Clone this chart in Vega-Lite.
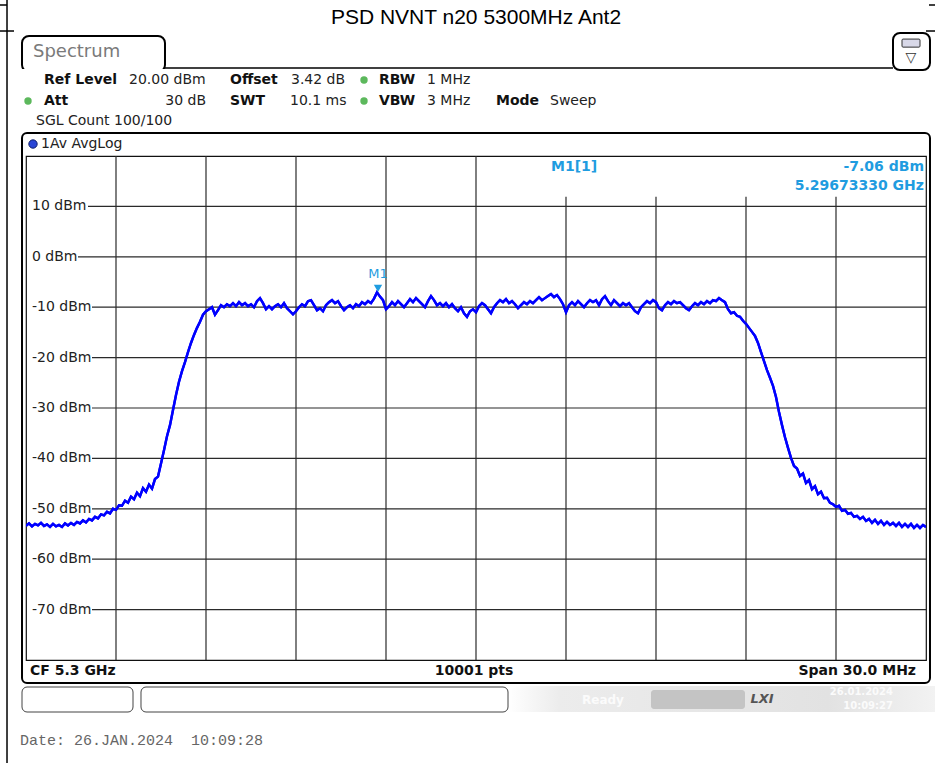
{
"$schema": "https://vega.github.io/schema/vega-lite/v6.json",
"width": 900, "height": 504,
"autosize": {"type": "none"},
"padding": {"left": 26, "top": 156, "right": 9, "bottom": 103},
"background": "white",
"config": {"view": {"stroke": "#111", "strokeWidth": 1.2}},
"datasets": {
"trace": [
{"f":5285.0,"p":-53.4},{"f":5285.1,"p":-52.9},{"f":5285.2,"p":-53.5},{"f":5285.3,"p":-53.0},{"f":5285.4,"p":-53.3},{"f":5285.5,"p":-52.8},{"f":5285.6,"p":-53.4},{"f":5285.7,"p":-53.1},{"f":5285.8,"p":-53.6},{"f":5285.9,"p":-53.0},
{"f":5286.0,"p":-53.5},{"f":5286.1,"p":-53.2},{"f":5286.2,"p":-53.6},{"f":5286.3,"p":-52.9},{"f":5286.4,"p":-53.3},{"f":5286.5,"p":-52.8},{"f":5286.6,"p":-53.2},{"f":5286.7,"p":-52.6},{"f":5286.8,"p":-52.9},{"f":5286.9,"p":-52.3},
{"f":5287.0,"p":-52.7},{"f":5287.1,"p":-52.0},{"f":5287.2,"p":-52.3},{"f":5287.3,"p":-51.6},{"f":5287.4,"p":-51.9},{"f":5287.5,"p":-51.1},{"f":5287.6,"p":-51.3},{"f":5287.7,"p":-50.6},{"f":5287.8,"p":-50.9},{"f":5287.9,"p":-50.0},
{"f":5288.0,"p":-50.2},{"f":5288.1,"p":-49.3},{"f":5288.2,"p":-49.4},{"f":5288.3,"p":-48.4},{"f":5288.4,"p":-48.8},{"f":5288.5,"p":-47.6},{"f":5288.6,"p":-48.1},{"f":5288.7,"p":-46.8},{"f":5288.8,"p":-47.5},{"f":5288.9,"p":-45.9},
{"f":5289.0,"p":-46.6},{"f":5289.1,"p":-45.2},{"f":5289.2,"p":-46.0},{"f":5289.3,"p":-44.1},{"f":5289.4,"p":-43.6},{"f":5289.5,"p":-41.0},{"f":5289.6,"p":-38.4},{"f":5289.7,"p":-35.6},{"f":5289.8,"p":-33.4},{"f":5289.9,"p":-30.4},
{"f":5290.0,"p":-27.4},{"f":5290.1,"p":-24.8},{"f":5290.2,"p":-22.7},{"f":5290.3,"p":-20.9},{"f":5290.4,"p":-18.9},{"f":5290.5,"p":-17.1},{"f":5290.6,"p":-15.5},{"f":5290.7,"p":-14.1},{"f":5290.8,"p":-12.9},{"f":5290.9,"p":-11.5},
{"f":5291.0,"p":-10.8},{"f":5291.1,"p":-10.4},{"f":5291.2,"p":-10.0},{"f":5291.3,"p":-11.5},{"f":5291.4,"p":-10.6},{"f":5291.5,"p":-9.6},{"f":5291.6,"p":-10.0},{"f":5291.7,"p":-9.4},{"f":5291.8,"p":-9.8},{"f":5291.9,"p":-9.2},
{"f":5292.0,"p":-9.8},{"f":5292.1,"p":-9.0},{"f":5292.2,"p":-9.6},{"f":5292.3,"p":-9.2},{"f":5292.4,"p":-9.8},{"f":5292.5,"p":-9.4},{"f":5292.6,"p":-10.0},{"f":5292.7,"p":-8.8},{"f":5292.8,"p":-8.2},{"f":5292.9,"p":-9.2},
{"f":5293.0,"p":-10.4},{"f":5293.1,"p":-9.8},{"f":5293.2,"p":-10.4},{"f":5293.3,"p":-9.8},{"f":5293.4,"p":-9.4},{"f":5293.5,"p":-10.0},{"f":5293.6,"p":-9.2},{"f":5293.7,"p":-10.2},{"f":5293.8,"p":-10.8},{"f":5293.9,"p":-11.4},
{"f":5294.0,"p":-10.8},{"f":5294.1,"p":-10.0},{"f":5294.2,"p":-9.4},{"f":5294.3,"p":-9.8},{"f":5294.4,"p":-8.8},{"f":5294.5,"p":-8.6},{"f":5294.6,"p":-9.6},{"f":5294.7,"p":-10.6},{"f":5294.8,"p":-10.2},{"f":5294.9,"p":-10.8},
{"f":5295.0,"p":-9.6},{"f":5295.1,"p":-9.0},{"f":5295.2,"p":-8.6},{"f":5295.3,"p":-9.2},{"f":5295.4,"p":-8.8},{"f":5295.5,"p":-9.8},{"f":5295.6,"p":-10.6},{"f":5295.7,"p":-10.0},{"f":5295.8,"p":-9.6},{"f":5295.9,"p":-10.2},
{"f":5296.0,"p":-9.4},{"f":5296.1,"p":-9.8},{"f":5296.2,"p":-9.0},{"f":5296.3,"p":-9.4},{"f":5296.4,"p":-8.8},{"f":5296.5,"p":-9.2},{"f":5296.6,"p":-8.3},{"f":5296.7,"p":-7.06},{"f":5296.8,"p":-7.9},{"f":5296.9,"p":-8.6},
{"f":5297.0,"p":-10.4},{"f":5297.1,"p":-9.8},{"f":5297.2,"p":-9.0},{"f":5297.3,"p":-9.6},{"f":5297.4,"p":-8.8},{"f":5297.5,"p":-9.4},{"f":5297.6,"p":-10.0},{"f":5297.7,"p":-9.2},{"f":5297.8,"p":-8.4},{"f":5297.9,"p":-9.0},
{"f":5298.0,"p":-8.2},{"f":5298.1,"p":-8.8},{"f":5298.2,"p":-9.4},{"f":5298.3,"p":-10.0},{"f":5298.4,"p":-8.8},{"f":5298.5,"p":-7.8},{"f":5298.6,"p":-8.6},{"f":5298.7,"p":-9.6},{"f":5298.8,"p":-9.2},{"f":5298.9,"p":-9.8},
{"f":5299.0,"p":-9.2},{"f":5299.1,"p":-10.0},{"f":5299.2,"p":-9.4},{"f":5299.3,"p":-10.2},{"f":5299.4,"p":-10.8},{"f":5299.5,"p":-10.0},{"f":5299.6,"p":-11.2},{"f":5299.7,"p":-11.9},{"f":5299.8,"p":-10.8},{"f":5299.9,"p":-10.4},
{"f":5300.0,"p":-11.0},{"f":5300.1,"p":-9.8},{"f":5300.2,"p":-9.2},{"f":5300.3,"p":-9.6},{"f":5300.4,"p":-10.4},{"f":5300.5,"p":-11.2},{"f":5300.6,"p":-10.0},{"f":5300.7,"p":-9.2},{"f":5300.8,"p":-8.6},{"f":5300.9,"p":-9.0},
{"f":5301.0,"p":-8.4},{"f":5301.1,"p":-9.2},{"f":5301.2,"p":-8.8},{"f":5301.3,"p":-9.4},{"f":5301.4,"p":-10.2},{"f":5301.5,"p":-9.6},{"f":5301.6,"p":-9.0},{"f":5301.7,"p":-9.4},{"f":5301.8,"p":-8.8},{"f":5301.9,"p":-9.2},
{"f":5302.0,"p":-8.6},{"f":5302.1,"p":-8.0},{"f":5302.2,"p":-8.6},{"f":5302.3,"p":-8.2},{"f":5302.4,"p":-7.8},{"f":5302.5,"p":-7.4},{"f":5302.6,"p":-8.0},{"f":5302.7,"p":-7.6},{"f":5302.8,"p":-8.4},{"f":5302.9,"p":-9.4},
{"f":5303.0,"p":-11.0},{"f":5303.1,"p":-9.6},{"f":5303.2,"p":-9.0},{"f":5303.3,"p":-9.6},{"f":5303.4,"p":-8.8},{"f":5303.5,"p":-9.4},{"f":5303.6,"p":-10.0},{"f":5303.7,"p":-9.2},{"f":5303.8,"p":-8.6},{"f":5303.9,"p":-9.0},
{"f":5304.0,"p":-8.6},{"f":5304.1,"p":-9.6},{"f":5304.2,"p":-8.4},{"f":5304.3,"p":-7.8},{"f":5304.4,"p":-8.8},{"f":5304.5,"p":-9.6},{"f":5304.6,"p":-8.6},{"f":5304.7,"p":-9.2},{"f":5304.8,"p":-9.8},{"f":5304.9,"p":-9.2},
{"f":5305.0,"p":-9.6},{"f":5305.1,"p":-9.2},{"f":5305.2,"p":-10.0},{"f":5305.3,"p":-10.8},{"f":5305.4,"p":-11.2},{"f":5305.5,"p":-10.0},{"f":5305.6,"p":-9.4},{"f":5305.7,"p":-8.8},{"f":5305.8,"p":-9.2},{"f":5305.9,"p":-8.6},
{"f":5306.0,"p":-9.0},{"f":5306.1,"p":-10.2},{"f":5306.2,"p":-10.6},{"f":5306.3,"p":-9.6},{"f":5306.4,"p":-9.0},{"f":5306.5,"p":-9.4},{"f":5306.6,"p":-8.8},{"f":5306.7,"p":-9.2},{"f":5306.8,"p":-9.0},{"f":5306.9,"p":-9.6},
{"f":5307.0,"p":-10.2},{"f":5307.1,"p":-10.6},{"f":5307.2,"p":-9.8},{"f":5307.3,"p":-9.2},{"f":5307.4,"p":-9.6},{"f":5307.5,"p":-9.0},{"f":5307.6,"p":-9.4},{"f":5307.7,"p":-8.8},{"f":5307.8,"p":-9.2},{"f":5307.9,"p":-8.6},
{"f":5308.0,"p":-8.8},{"f":5308.1,"p":-8.2},{"f":5308.2,"p":-8.6},{"f":5308.3,"p":-9.0},{"f":5308.4,"p":-10.4},{"f":5308.5,"p":-11.2},{"f":5308.6,"p":-11.0},{"f":5308.7,"p":-11.7},{"f":5308.8,"p":-11.9},{"f":5308.9,"p":-12.7},
{"f":5309.0,"p":-13.3},{"f":5309.1,"p":-14.1},{"f":5309.2,"p":-14.9},{"f":5309.3,"p":-15.7},{"f":5309.4,"p":-17.1},{"f":5309.5,"p":-18.9},{"f":5309.6,"p":-20.7},{"f":5309.7,"p":-22.5},{"f":5309.8,"p":-24.0},{"f":5309.9,"p":-25.6},
{"f":5310.0,"p":-27.8},{"f":5310.1,"p":-30.8},{"f":5310.2,"p":-33.4},{"f":5310.3,"p":-35.8},{"f":5310.4,"p":-37.9},{"f":5310.5,"p":-39.9},{"f":5310.6,"p":-41.5},{"f":5310.7,"p":-42.0},{"f":5310.8,"p":-43.5},{"f":5310.9,"p":-43.0},
{"f":5311.0,"p":-44.9},{"f":5311.1,"p":-44.3},{"f":5311.2,"p":-46.1},{"f":5311.3,"p":-45.5},{"f":5311.4,"p":-47.1},{"f":5311.5,"p":-46.6},{"f":5311.6,"p":-47.9},{"f":5311.7,"p":-47.8},{"f":5311.8,"p":-48.8},{"f":5311.9,"p":-49.1},
{"f":5312.0,"p":-49.6},{"f":5312.1,"p":-49.4},{"f":5312.2,"p":-50.4},{"f":5312.3,"p":-50.2},{"f":5312.4,"p":-51.0},{"f":5312.5,"p":-50.8},{"f":5312.6,"p":-51.6},{"f":5312.7,"p":-51.4},{"f":5312.8,"p":-52.0},{"f":5312.9,"p":-51.6},
{"f":5313.0,"p":-52.4},{"f":5313.1,"p":-52.0},{"f":5313.2,"p":-52.8},{"f":5313.3,"p":-52.2},{"f":5313.4,"p":-53.0},{"f":5313.5,"p":-52.4},{"f":5313.6,"p":-53.2},{"f":5313.7,"p":-52.6},{"f":5313.8,"p":-53.2},{"f":5313.9,"p":-52.8},
{"f":5314.0,"p":-53.4},{"f":5314.1,"p":-52.8},{"f":5314.2,"p":-53.6},{"f":5314.3,"p":-53.0},{"f":5314.4,"p":-53.6},{"f":5314.5,"p":-53.0},{"f":5314.6,"p":-53.8},{"f":5314.7,"p":-53.2},{"f":5314.8,"p":-53.8},{"f":5314.9,"p":-53.2},
{"f":5315.0,"p":-53.6}
],
"vgrid": [
{"f":5288,"top":20},{"f":5291,"top":20},{"f":5294,"top":20},{"f":5297,"top":20},{"f":5300,"top":20},
{"f":5303,"top":11.9},{"f":5306,"top":11.9},{"f":5309,"top":11.9},{"f":5312,"top":11.9}
],
"hgrid": [
{"p":10,"start":5287.067,"end":5315,"label":"10 dBm"},{"p":0,"start":5286.733,"end":5315,"label":"0 dBm"},
{"p":-10,"start":5287.2,"end":5315,"label":"-10 dBm"},{"p":-20,"start":5287.2,"end":5315,"label":"-20 dBm"},
{"p":-30,"start":5287.2,"end":5315,"label":"-30 dBm"},{"p":-40,"start":5287.2,"end":5315,"label":"-40 dBm"},
{"p":-50,"start":5287.2,"end":5315,"label":"-50 dBm"},{"p":-60,"start":5287.2,"end":5315,"label":"-60 dBm"},
{"p":-70,"start":5287.2,"end":5315,"label":"-70 dBm"}
],
"boxes": [
{"k":"tab","f1":5284.867,"f2":5289.633,"p1":43.81,"p2":36.67},
{"k":"cover","f1":5284.8,"f2":5289.7,"p1":37.26,"p2":36.2},
{"k":"icon","f1":5313.9,"f2":5315.133,"p1":44.4,"p2":37.06},
{"k":"kbd","f1":5314.2,"f2":5314.8,"p1":43.2,"p2":41.6},
{"k":"panel","f1":5284.867,"f2":5315.133,"p1":24.56,"p2":-84.56},
{"k":"sb","f1":5284.867,"f2":5288.567,"p1":-85.36,"p2":-90.32},
{"k":"sb","f1":5288.833,"f2":5301.067,"p1":-85.36,"p2":-90.32},
{"k":"grad","f1":5301.067,"f2":5315.3,"p1":-85.16,"p2":-90.32},
{"k":"lxi","f1":5305.833,"f2":5308.967,"p1":-85.95,"p2":-89.72}
],
"lines": [
{"f1":5289.633,"f2":5313.9,"p1":37.46,"p2":37.46},
{"f1":5284.367,"f2":5284.367,"p1":50.95,"p2":-100.44},
{"f1":5284.133,"f2":5284.367,"p1":49.96,"p2":49.96},
{"f1":5284.133,"f2":5284.6,"p1":44.8,"p2":44.8},
{"f1":5315.1,"f2":5315.3,"p1":49.96,"p2":49.96},
{"f1":5315.0,"f2":5315.3,"p1":44.8,"p2":44.8}
],
"dots": [
{"f":5296.267,"p":35.08,"c":"g"},{"f":5285.067,"p":30.91,"c":"g"},{"f":5296.267,"p":30.91,"c":"g"},{"f":5285.233,"p":22.38,"c":"b"}
],
"marker": [
{"f":5296.7333,"p":-7.06,"name":"M1"}
],
"texts": [
{"s":"title","f":5300,"p":47.38,"t":"PSD NVNT n20 5300MHz Ant2"},
{"s":"tab","f":5285.233,"p":40.63,"t":"Spectrum"},
{"s":"hb","f":5285.6,"p":35.08,"t":"Ref Level"},
{"s":"hn","f":5288.433,"p":35.08,"t":"20.00 dBm"},
{"s":"hb","f":5291.8,"p":35.08,"t":"Offset"},
{"s":"hn","f":5293.833,"p":35.08,"t":"3.42 dB"},
{"s":"hb","f":5296.767,"p":35.08,"t":"RBW"},
{"s":"hn","f":5298.367,"p":35.08,"t":"1 MHz"},
{"s":"hb","f":5285.6,"p":30.91,"t":"Att"},
{"s":"hr","f":5291.0,"p":30.91,"t":"30 dB"},
{"s":"hb","f":5291.8,"p":30.91,"t":"SWT"},
{"s":"hn","f":5293.8,"p":30.91,"t":"10.1 ms"},
{"s":"hb","f":5296.767,"p":30.91,"t":"VBW"},
{"s":"hn","f":5298.367,"p":30.91,"t":"3 MHz"},
{"s":"hb","f":5300.667,"p":30.91,"t":"Mode"},
{"s":"hn","f":5302.467,"p":30.91,"t":"Sweep"},
{"s":"hn","f":5285.333,"p":26.94,"t":"SGL Count 100/100"},
{"s":"hn","f":5285.5,"p":22.38,"t":"1Av AvgLog"},
{"s":"mk","f":5302.5,"p":17.82,"t":"M1[1]"},
{"s":"mkr","f":5314.933,"p":17.82,"t":"-7.06 dBm"},
{"s":"mkr","f":5314.933,"p":14.05,"t":"5.29673330 GHz"},
{"s":"bb","f":5285.133,"p":-82.18,"t":"CF 5.3 GHz"},
{"s":"bbc","f":5299.933,"p":-82.18,"t":"10001 pts"},
{"s":"bbr","f":5314.667,"p":-82.18,"t":"Span 30.0 MHz"},
{"s":"date","f":5284.8,"p":-95.87,"t":"Date: 26.JAN.2024 \u00a010:09:28"},
{"s":"st","f":5304.233,"p":-87.94,"t":"Ready"},
{"s":"sd","f":5313.9,"p":-86.35,"t":"26.01.2024"},
{"s":"sd","f":5313.9,"p":-89.13,"t":"10:09:27"},
{"s":"lxi","f":5309.15,"p":-87.74,"t":"LXI"},
{"s":"icon","f":5314.5,"p":39.44,"t":"\u25bd"}
]
},
"layer": [
{"data": {"name": "trace"}, "mark": {"type": "line", "stroke": "#0000ff", "strokeWidth": 2.4, "clip": true},
 "encoding": {
  "x": {"field": "f", "type": "quantitative", "scale": {"domain": [5285, 5315], "nice": false, "zero": false}, "axis": null},
  "y": {"field": "p", "type": "quantitative", "scale": {"domain": [-80, 20], "nice": false, "zero": false}, "axis": null}}},
{"data": {"name": "vgrid"}, "mark": {"type": "rule", "stroke": "#2a2a2a", "strokeWidth": 1.2},
 "encoding": {"x": {"field": "f", "type": "quantitative", "axis": null}, "y": {"field": "top", "type": "quantitative", "axis": null}, "y2": {"datum": -80}}},
{"data": {"name": "hgrid"}, "mark": {"type": "rule", "stroke": "#2a2a2a", "strokeWidth": 1.2},
 "encoding": {"x": {"field": "start", "type": "quantitative", "axis": null}, "x2": {"field": "end"}, "y": {"field": "p", "type": "quantitative", "axis": null}}},
{"data": {"name": "trace"}, "mark": {"type": "line", "stroke": "#0000ff", "strokeWidth": 2.4, "clip": true},
 "encoding": {"x": {"field": "f", "type": "quantitative", "axis": null}, "y": {"field": "p", "type": "quantitative", "axis": null}}},
{"data": {"name": "hgrid"}, "mark": {"type": "text", "align": "left", "baseline": "middle", "font": "DejaVu Sans", "fontSize": 14, "fill": "#222", "x": 6},
 "encoding": {"y": {"field": "p", "type": "quantitative", "axis": null}, "text": {"field": "label", "type": "nominal"}}},
{"data": {"name": "boxes"}, "transform": [{"filter": "datum.k === 'panel'"}],
 "mark": {"type": "rect", "fill": "white", "fillOpacity": 0, "stroke": "#000", "strokeWidth": 2, "cornerRadius": 5},
 "encoding": {"x": {"field": "f1", "type": "quantitative", "axis": null}, "x2": {"field": "f2"}, "y": {"field": "p1", "type": "quantitative", "axis": null}, "y2": {"field": "p2"}}},
{"data": {"name": "boxes"}, "transform": [{"filter": "datum.k === 'tab' || datum.k === 'icon'"}],
 "mark": {"type": "rect", "fill": "white", "stroke": "#000", "strokeWidth": 2, "cornerRadius": 7},
 "encoding": {"x": {"field": "f1", "type": "quantitative", "axis": null}, "x2": {"field": "f2"}, "y": {"field": "p1", "type": "quantitative", "axis": null}, "y2": {"field": "p2"}}},
{"data": {"name": "boxes"}, "transform": [{"filter": "datum.k === 'kbd'"}],
 "mark": {"type": "rect", "fill": "#d8d8e8", "stroke": "#333", "strokeWidth": 1, "cornerRadius": 1},
 "encoding": {"x": {"field": "f1", "type": "quantitative", "axis": null}, "x2": {"field": "f2"}, "y": {"field": "p1", "type": "quantitative", "axis": null}, "y2": {"field": "p2"}}},
{"data": {"name": "boxes"}, "transform": [{"filter": "datum.k === 'cover'"}],
 "mark": {"type": "rect", "fill": "white", "strokeWidth": 0},
 "encoding": {"x": {"field": "f1", "type": "quantitative", "axis": null}, "x2": {"field": "f2"}, "y": {"field": "p1", "type": "quantitative", "axis": null}, "y2": {"field": "p2"}}},
{"data": {"name": "boxes"}, "transform": [{"filter": "datum.k === 'grad'"}],
 "mark": {"type": "rect", "strokeWidth": 0, "fill": {"gradient": "linear", "x1": 0, "y1": 0, "x2": 1, "y2": 0, "stops": [{"offset": 0, "color": "#ffffff"}, {"offset": 0.12, "color": "#ececec"}, {"offset": 0.75, "color": "#e2e2e2"}, {"offset": 1, "color": "#f2f2f2"}]}},
 "encoding": {"x": {"field": "f1", "type": "quantitative", "axis": null}, "x2": {"field": "f2"}, "y": {"field": "p1", "type": "quantitative", "axis": null}, "y2": {"field": "p2"}}},
{"data": {"name": "boxes"}, "transform": [{"filter": "datum.k === 'lxi'"}],
 "mark": {"type": "rect", "fill": "#c4c4c4", "strokeWidth": 0, "cornerRadius": 3},
 "encoding": {"x": {"field": "f1", "type": "quantitative", "axis": null}, "x2": {"field": "f2"}, "y": {"field": "p1", "type": "quantitative", "axis": null}, "y2": {"field": "p2"}}},
{"data": {"name": "boxes"}, "transform": [{"filter": "datum.k === 'sb'"}],
 "mark": {"type": "rect", "fill": "white", "stroke": "#444", "strokeWidth": 1, "cornerRadius": 5},
 "encoding": {"x": {"field": "f1", "type": "quantitative", "axis": null}, "x2": {"field": "f2"}, "y": {"field": "p1", "type": "quantitative", "axis": null}, "y2": {"field": "p2"}}},
{"data": {"name": "lines"}, "mark": {"type": "rule", "stroke": "#000", "strokeWidth": 1.5},
 "encoding": {"x": {"field": "f1", "type": "quantitative", "axis": null}, "x2": {"field": "f2"}, "y": {"field": "p1", "type": "quantitative", "axis": null}, "y2": {"field": "p2"}}},
{"data": {"name": "dots"}, "transform": [{"filter": "datum.c === 'g'"}], "mark": {"type": "circle", "fill": "#5cb85c", "size": 55, "opacity": 1},
 "encoding": {"x": {"field": "f", "type": "quantitative", "axis": null}, "y": {"field": "p", "type": "quantitative", "axis": null}}},
{"data": {"name": "dots"}, "transform": [{"filter": "datum.c === 'b'"}], "mark": {"type": "circle", "fill": "#2a46d6", "stroke": "#10206a", "strokeWidth": 1, "size": 70, "opacity": 1},
 "encoding": {"x": {"field": "f", "type": "quantitative", "axis": null}, "y": {"field": "p", "type": "quantitative", "axis": null}}},
{"data": {"name": "marker"}, "mark": {"type": "point", "shape": "triangle-down", "filled": true, "fill": "#1f9ce0", "size": 70, "opacity": 1, "yOffset": -4},
 "encoding": {"x": {"field": "f", "type": "quantitative", "axis": null}, "y": {"field": "p", "type": "quantitative", "axis": null}}},
{"data": {"name": "marker"}, "mark": {"type": "text", "font": "DejaVu Sans", "fontSize": 13, "fill": "#1f9ce0", "baseline": "middle", "align": "center", "dy": -18},
 "encoding": {"x": {"field": "f", "type": "quantitative", "axis": null}, "y": {"field": "p", "type": "quantitative", "axis": null}, "text": {"field": "name", "type": "nominal"}}},
{"data": {"name": "texts"}, "transform": [{"filter": "datum.s === 'title'"}],
 "mark": {"type": "text", "font": "Liberation Sans", "fontSize": 21, "fill": "#000", "align": "center", "baseline": "middle"},
 "encoding": {"x": {"field": "f", "type": "quantitative", "axis": null}, "y": {"field": "p", "type": "quantitative", "axis": null}, "text": {"field": "t", "type": "nominal"}}},
{"data": {"name": "texts"}, "transform": [{"filter": "datum.s === 'tab'"}],
 "mark": {"type": "text", "font": "DejaVu Sans", "fontSize": 18, "fill": "#7a7a7a", "align": "left", "baseline": "middle"},
 "encoding": {"x": {"field": "f", "type": "quantitative", "axis": null}, "y": {"field": "p", "type": "quantitative", "axis": null}, "text": {"field": "t", "type": "nominal"}}},
{"data": {"name": "texts"}, "transform": [{"filter": "datum.s === 'icon'"}],
 "mark": {"type": "text", "font": "DejaVu Sans", "fontSize": 14, "fill": "#333", "align": "center", "baseline": "middle"},
 "encoding": {"x": {"field": "f", "type": "quantitative", "axis": null}, "y": {"field": "p", "type": "quantitative", "axis": null}, "text": {"field": "t", "type": "nominal"}}},
{"data": {"name": "texts"}, "transform": [{"filter": "datum.s === 'hb' || datum.s === 'bb'"}],
 "mark": {"type": "text", "font": "DejaVu Sans", "fontSize": 14, "fontWeight": "bold", "fill": "#111", "align": "left", "baseline": "middle"},
 "encoding": {"x": {"field": "f", "type": "quantitative", "axis": null}, "y": {"field": "p", "type": "quantitative", "axis": null}, "text": {"field": "t", "type": "nominal"}}},
{"data": {"name": "texts"}, "transform": [{"filter": "datum.s === 'hn'"}],
 "mark": {"type": "text", "font": "DejaVu Sans", "fontSize": 14, "fill": "#222", "align": "left", "baseline": "middle"},
 "encoding": {"x": {"field": "f", "type": "quantitative", "axis": null}, "y": {"field": "p", "type": "quantitative", "axis": null}, "text": {"field": "t", "type": "nominal"}}},
{"data": {"name": "texts"}, "transform": [{"filter": "datum.s === 'hr'"}],
 "mark": {"type": "text", "font": "DejaVu Sans", "fontSize": 14, "fill": "#222", "align": "right", "baseline": "middle"},
 "encoding": {"x": {"field": "f", "type": "quantitative", "axis": null}, "y": {"field": "p", "type": "quantitative", "axis": null}, "text": {"field": "t", "type": "nominal"}}},
{"data": {"name": "texts"}, "transform": [{"filter": "datum.s === 'mk'"}],
 "mark": {"type": "text", "font": "DejaVu Sans", "fontSize": 14, "fontWeight": "bold", "fill": "#1f9ce0", "align": "left", "baseline": "middle"},
 "encoding": {"x": {"field": "f", "type": "quantitative", "axis": null}, "y": {"field": "p", "type": "quantitative", "axis": null}, "text": {"field": "t", "type": "nominal"}}},
{"data": {"name": "texts"}, "transform": [{"filter": "datum.s === 'mkr'"}],
 "mark": {"type": "text", "font": "DejaVu Sans", "fontSize": 14, "fontWeight": "bold", "fill": "#1f9ce0", "align": "right", "baseline": "middle"},
 "encoding": {"x": {"field": "f", "type": "quantitative", "axis": null}, "y": {"field": "p", "type": "quantitative", "axis": null}, "text": {"field": "t", "type": "nominal"}}},
{"data": {"name": "texts"}, "transform": [{"filter": "datum.s === 'bbc'"}],
 "mark": {"type": "text", "font": "DejaVu Sans", "fontSize": 14, "fontWeight": "bold", "fill": "#111", "align": "center", "baseline": "middle"},
 "encoding": {"x": {"field": "f", "type": "quantitative", "axis": null}, "y": {"field": "p", "type": "quantitative", "axis": null}, "text": {"field": "t", "type": "nominal"}}},
{"data": {"name": "texts"}, "transform": [{"filter": "datum.s === 'bbr'"}],
 "mark": {"type": "text", "font": "DejaVu Sans", "fontSize": 14, "fontWeight": "bold", "fill": "#111", "align": "right", "baseline": "middle"},
 "encoding": {"x": {"field": "f", "type": "quantitative", "axis": null}, "y": {"field": "p", "type": "quantitative", "axis": null}, "text": {"field": "t", "type": "nominal"}}},
{"data": {"name": "texts"}, "transform": [{"filter": "datum.s === 'st'"}],
 "mark": {"type": "text", "font": "DejaVu Sans", "fontSize": 12, "fontWeight": "bold", "fill": "#fbfbfb", "align": "center", "baseline": "middle"},
 "encoding": {"x": {"field": "f", "type": "quantitative", "axis": null}, "y": {"field": "p", "type": "quantitative", "axis": null}, "text": {"field": "t", "type": "nominal"}}},
{"data": {"name": "texts"}, "transform": [{"filter": "datum.s === 'sd'"}],
 "mark": {"type": "text", "font": "DejaVu Sans", "fontSize": 10, "fontWeight": "bold", "fill": "#fbfbfb", "align": "right", "baseline": "middle"},
 "encoding": {"x": {"field": "f", "type": "quantitative", "axis": null}, "y": {"field": "p", "type": "quantitative", "axis": null}, "text": {"field": "t", "type": "nominal"}}},
{"data": {"name": "texts"}, "transform": [{"filter": "datum.s === 'lxi'"}],
 "mark": {"type": "text", "font": "DejaVu Sans", "fontSize": 13, "fontWeight": "bold", "fontStyle": "italic", "fill": "#555", "align": "left", "baseline": "middle"},
 "encoding": {"x": {"field": "f", "type": "quantitative", "axis": null}, "y": {"field": "p", "type": "quantitative", "axis": null}, "text": {"field": "t", "type": "nominal"}}},
{"data": {"name": "texts"}, "transform": [{"filter": "datum.s === 'date'"}],
 "mark": {"type": "text", "font": "Liberation Mono", "fontSize": 15, "fill": "#666", "align": "left", "baseline": "middle"},
 "encoding": {"x": {"field": "f", "type": "quantitative", "axis": null}, "y": {"field": "p", "type": "quantitative", "axis": null}, "text": {"field": "t", "type": "nominal"}}}
]
}
